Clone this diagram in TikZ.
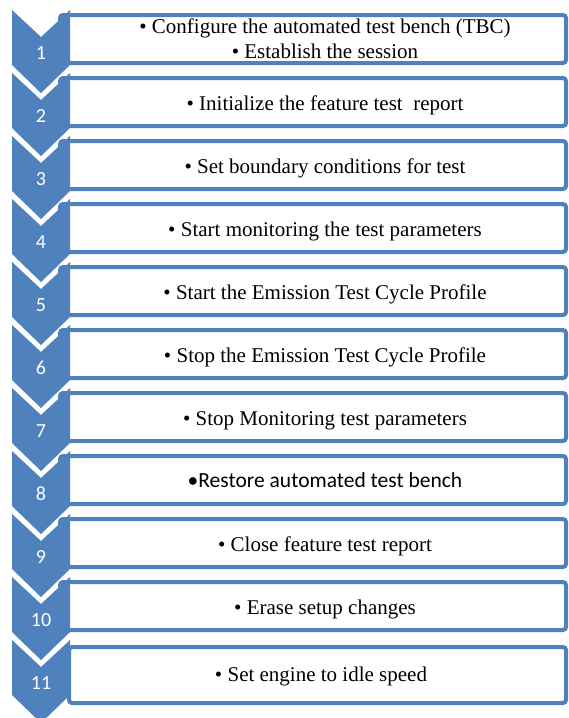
\documentclass[tikz,border=0pt]{standalone}
\usepackage{fontspec}
\setmainfont{Liberation Serif}
\newfontfamily\calibri{Carlito}
\definecolor{stepblue}{HTML}{4F81BD}

\begin{document}
\begin{tikzpicture}[x=1pt,y=-1pt,
	stepbox/.style={draw=stepblue,line width=4pt,fill=white,rounded corners=3pt},
	steptext/.style={font=\fontsize{21}{25}\selectfont,anchor=base},
	stepnum/.style={font=\calibri\fontsize{20}{24}\selectfont,text=white}]
	\useasboundingbox (0,0) rectangle (569,718);
	
	%boxes behind the chevrons
	\foreach \i in {1,...,10}
	{\draw[stepbox] (60,{15+63*(\i-1)}) rectangle (566,{63+63*(\i-1)});}
	
	%chevrons
	\foreach \i in {1,...,11}
	{\fill[stepblue] (12,{10+63*(\i-1)}) -- (41,{37+63*(\i-1)}) -- (70,{10+63*(\i-1)})
		-- (70,{65+63*(\i-1)}) -- (41,{93+63*(\i-1)}) -- (12,{65+63*(\i-1)}) -- cycle;
	\node[stepnum] (n\i) at (41,{53+63*(\i-1)}) {\i};}
	
	%last box sits on top
	\draw[stepbox] (69,647) rectangle (566,703);
	
	%texts
	\node[steptext] (s1a) at (325,33) {\textbullet{} Configure the automated test bench (TBC)};
	\node[steptext] (s1b) at (325,58) {\textbullet{} Establish the session};
	\foreach \i/\txt in {2/{Initialize the feature test\ \ report},
		3/{Set boundary conditions for test},
		4/{Start monitoring the test parameters},
		5/{Start the Emission Test Cycle Profile},
		6/{Stop the Emission Test Cycle Profile},
		7/{Stop Monitoring test parameters},
		9/{Close feature test report},
		10/{Erase setup changes}}
	{\node[steptext] (s\i) at (325,{110+63*(\i-2)}) {\textbullet{} \txt};}
	\node[steptext,font=\calibri\fontsize{21.5}{25}\selectfont] (s8) at (325,487) {\textbullet Restore automated test bench};
	\node[steptext] (s11) at (321,681) {\textbullet{} Set engine to idle speed};
\end{tikzpicture}
\end{document}
